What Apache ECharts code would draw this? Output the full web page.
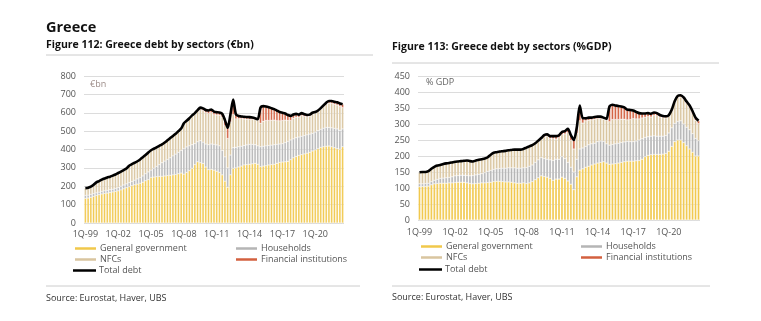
<!DOCTYPE html>
<html><head><meta charset="utf-8">
<script src="https://cdn.jsdelivr.net/npm/echarts@6/dist/echarts.min.js"></script>
<style>html,body{margin:0;padding:0;background:#fff}#c{width:761px;height:321px}</style>
</head><body><div id="c"></div>
<script>
// Quarterly categories 1Q-99 .. 3Q-22
const quarters = [];
for (let y = 1999; y <= 2022; y++) for (let q = 1; q <= 4; q++) {
  if (y === 2022 && q > 3) break;
  quarters.push(q + 'Q-' + String(y).slice(2));
}
const seriesNames = ['General government', 'Households', 'NFCs', 'Financial institutions', 'Total debt'];

// Figure 112 (EUR bn)
const eurGG = [134,136,140,145, 150,154,158,161, 163,166,169,172, 175,180,186,192, 198,203,208,212, 216,222,230,236, 248,250,252,254, 254,256,258,260, 262,264,268,272, 266,275,285,298, 318,333,328,324, 305,290,292,288, 282,275,262,228, 195,262,298,300, 305,310,316,318, 320,322,325,320, 307,310,312,316, 318,320,325,330, 332,333,336,345, 355,362,368,372, 376,380,385,392, 398,405,412,415, 418,419,415,410, 405,402,415];
const eurHH = [16,16,16,15, 14,14,14,14, 15,15,15,16, 18,20,21,21, 22,23,25,28, 31,34,38,42, 40,48,56,64, 74,81,88,95, 103,111,117,123, 139,139,135,128, 114,109,120,116, 125,136,138,140, 143,145,133,132, 105,108,112,112, 110,108,106,107, 108,106,101,100, 108,108,108,106, 106,106,103,100, 100,105,108,107, 103,102,100,100, 100,100,99,96, 97,97,98,101, 102,101,103,105, 107,103,97];
const eurNFC = [40,40,42,48, 57,60,64,67, 70,71,74,76, 79,80,81,83, 92,94,95,96, 99,102,102,106, 108,106,104,102, 100,101,104,107, 109,111,115,119, 138,142,148,156, 160,164,170,172, 171,170,170,162, 163,167,181,170, 160,180,180,155, 152,150,144,140, 136,136,136,139, 128,136,138,136, 135,134,129,126, 126,122,114,106, 112,112,107,112, 104,98,97,104, 103,104,109,116, 125,132,133,131, 130,129,116];
const eurFI = [0,0,0,0, 0,0,0,0, 0,0,0,0, 0,0,0,0, 0,0,0,0, 0,0,0,0, 0,0,0,0, 0,0,0,0, 0,0,0,0, 0,0,2,4, 6,8,10,12, 14,16,18,16, 15,14,18,30, 58,40,50,25, 15,12,12,12, 12,10,8,6, 85,82,76,72, 66,60,55,48, 42,36,30,25, 20,18,15,14, 12,10,9,8, 6,6,6,8, 10,12,13,14, 15,16,18];
const eurTotal = [190,192,198,208, 221,228,236,242, 248,252,258,264, 272,280,288,296, 312,320,328,336, 346,358,370,384, 396,404,412,420, 428,438,450,462, 474,486,500,514, 543,556,570,586, 598,614,628,624, 615,612,618,606, 603,601,594,560, 518,590,672,592, 582,580,578,577, 576,574,570,565, 628,636,634,630, 625,620,612,604, 600,596,588,583, 590,594,590,598, 592,588,590,600, 604,612,625,640, 655,664,664,660, 657,650,646];
const eurTicks = [0,100,200,300,400,500,600,700,800];

// Figure 113 (% GDP)
const gdpGG = [104,105,105,106, 110,113,114,115, 115,115,116,116, 117,118,118,118, 116,114,113,114, 115,116,116,117, 118,120,121,121, 120,119,119,118, 116,115,115,116, 114,116,120,126, 132,138,136,134, 130,124,128,128, 134,130,122,112, 95,135,156,160, 165,168,172,175, 178,180,182,178, 174,175,176,178, 180,182,184,184, 184,185,186,190, 198,202,204,205, 205,205,206,208, 215,230,245,250, 250,242,232,222, 212,200,200];
const gdpHH = [9,8,9,9, 10,11,13,15, 16,17,17,19, 21,21,22,22, 23,24,26,27, 28,29,32,35, 37,38,39,40, 42,43,44,45, 47,47,47,47, 50,52,52,54, 56,57,56,56, 58,62,62,62, 64,62,58,53, 55,55,66,65, 65,67,66,65, 67,67,64,60, 60,61,62,62, 62,62,62,61, 61,62,64,64, 60,58,58,58, 57,57,56,56, 57,58,57,58, 60,58,58,60, 58,55,48];
const gdpNFC = [36,37,36,38, 40,42,43,42, 44,45,45,45, 44,44,44,45, 47,46,44,45, 45,45,44,44, 49,52,52,53, 53,54,55,56, 57,58,58,59, 62,62,61,58, 57,57,68,72, 67,68,63,67, 69,77,93,84, 72,80,88,78, 80,77,75,75, 72,70,69,74, 73,78,76,74, 73,71,67,69, 72,69,66,65, 63,63,60,64, 64,60,58,55, 52,53,66,75, 74,77,74,69, 62,57,53];
const gdpFI = [0,0,0,0, 0,0,0,0, 0,0,0,0, 0,0,0,0, 0,0,0,0, 0,0,0,0, 0,0,0,0, 0,0,0,0, 0,0,0,0, 0,0,1,2, 3,4,5,6, 7,8,9,8, 8,9,12,16, 28,20,35,15, 8,8,7,7, 6,6,5,4, 48,46,44,42, 40,37,32,30, 25,22,18,14, 12,11,10,9, 8,6,5,5, 4,4,4,5, 6,6,6,7, 8,8,9];
const gdpTotal = [149,150,150,153, 160,166,170,172, 175,177,178,180, 182,183,184,185, 186,184,183,186, 188,190,192,196, 204,210,212,214, 215,216,218,219, 220,220,220,222, 226,230,234,240, 248,256,265,268, 262,262,262,265, 275,278,285,265, 250,290,358,318, 318,320,320,322, 323,323,320,316, 355,360,358,356, 355,352,345,344, 342,338,334,333, 333,334,332,336, 334,328,325,324, 328,345,372,388, 390,383,370,358, 340,320,310];
const gdpTicks = [0,50,100,150,200,250,300,350,400,450];

const colors = ['#F1C84B', '#B5B5B5', '#D9C59F', '#D3603F', '#000000'];
const FONT = '"Open Sans", "DejaVu Sans", sans-serif';
const chart = echarts.init(document.getElementById('c'), null, {renderer: 'canvas'});

function barSeries(name, data, idx, gi, stack) {
  return {
    name, type: 'bar', data, stack, xAxisIndex: gi, yAxisIndex: gi,
    barCategoryGap: '22%',
    itemStyle: {color: colors[idx], borderColor: '#ffffff', borderWidth: 0.35},
    emphasis: {disabled: true}, animation: false
  };
}
function lineSeries(data, gi) {
  return {
    name: 'Total debt', type: 'line', data, xAxisIndex: gi, yAxisIndex: gi,
    symbol: 'none', smooth: 0.25, z: 5,
    itemStyle: {color: '#000'},
    lineStyle: {color: '#000', width: 2.6, join: 'round'},
    emphasis: {disabled: true}, animation: false
  };
}
function xAx(gi, margin) {
  return {
    type: 'category', data: quarters, gridIndex: gi,
    axisLine: {show: false}, axisTick: {show: false},
    axisLabel: {interval: 11, color: '#555', fontSize: 9, fontFamily: FONT, margin}
  };
}
function yAx(gi, max, interval) {
  return {
    type: 'value', gridIndex: gi, min: 0, max, interval,
    axisLine: {show: false}, axisTick: {show: false},
    axisLabel: {color: '#555', fontSize: 9, fontFamily: FONT, margin: 8},
    splitLine: {lineStyle: {color: '#dcdcdc', width: 1}}
  };
}
function legendItem(name, left, top) {
  const isLine = name === 'Total debt';
  return {
    data: [{name, icon: 'rect', itemStyle: {color: colors[seriesNames.indexOf(name)]}}],
    left, top, orient: 'horizontal',
    itemWidth: 23, itemHeight: isLine ? 2.5 : 4.5, itemGap: 0, padding: 0,
    selectedMode: false,
    textStyle: {color: '#555', fontSize: 9, fontFamily: FONT, padding: [0, 0, 0, -2]}
  };
}
function titleItem(text, left, top, size, weight, color) {
  return {text, left, top, padding: 0,
    textStyle: {fontSize: size, fontWeight: weight, color, fontFamily: FONT}};
}

const option = {
  backgroundColor: '#fff',
  animation: false,
  grid: [
    {left: 84, right: 417, top: 76, bottom: 98},
    {left: 418, right: 61, top: 76, bottom: 101}
  ],
  xAxis: [xAx(0, 7), xAx(1, 8)],
  yAxis: [yAx(0, eurTicks[eurTicks.length - 1], eurTicks[1] - eurTicks[0]),
          yAx(1, gdpTicks[gdpTicks.length - 1], gdpTicks[1] - gdpTicks[0])],
  legend: [
    legendItem(seriesNames[0], 73, 244), legendItem(seriesNames[1], 234, 244),
    legendItem(seriesNames[2], 73, 255), legendItem(seriesNames[3], 234, 255),
    legendItem(seriesNames[4], 73, 266),
    legendItem(seriesNames[0], 419, 242), legendItem(seriesNames[1], 579, 242),
    legendItem(seriesNames[2], 419, 253), legendItem(seriesNames[3], 579, 253),
    legendItem(seriesNames[4], 419, 265)
  ],
  title: [
    titleItem('Greece', 46, 20, 14.5, 'bold', '#111'),
    titleItem('Figure 112: Greece debt by sectors (€bn)', 46, 40, 10.5, 'bold', '#111'),
    titleItem('Figure 113: Greece debt by sectors (%GDP)', 392, 42, 10.5, 'bold', '#111'),
    titleItem('Source: Eurostat, Haver, UBS', 46, 294, 9, 'normal', '#333'),
    titleItem('Source: Eurostat, Haver, UBS', 392, 293, 9, 'normal', '#333')
  ],
  graphic: [
    {type: 'line', shape: {x1: 46, y1: 55, x2: 373, y2: 55}, style: {stroke: '#cccccc', lineWidth: 1}},
    {type: 'line', shape: {x1: 392, y1: 63, x2: 719, y2: 63}, style: {stroke: '#cccccc', lineWidth: 1}},
    {type: 'line', shape: {x1: 46, y1: 286, x2: 360, y2: 286}, style: {stroke: '#cccccc', lineWidth: 1}},
    {type: 'line', shape: {x1: 392, y1: 286, x2: 710, y2: 286}, style: {stroke: '#cccccc', lineWidth: 1}},
    {type: 'text', left: 90, top: 80, style: {text: '€bn', fill: '#9c8c88', font: '9px ' + FONT}},
    {type: 'text', left: 426, top: 78, style: {text: '% GDP', fill: '#666', font: '9px ' + FONT}}
  ],
  series: [
    barSeries(seriesNames[0], eurGG, 0, 0, 'a'),
    barSeries(seriesNames[1], eurHH, 1, 0, 'a'),
    barSeries(seriesNames[2], eurNFC, 2, 0, 'a'),
    barSeries(seriesNames[3], eurFI, 3, 0, 'a'),
    lineSeries(eurTotal, 0),
    barSeries(seriesNames[0], gdpGG, 0, 1, 'b'),
    barSeries(seriesNames[1], gdpHH, 1, 1, 'b'),
    barSeries(seriesNames[2], gdpNFC, 2, 1, 'b'),
    barSeries(seriesNames[3], gdpFI, 3, 1, 'b'),
    lineSeries(gdpTotal, 1)
  ]
};
chart.setOption(option);
</script></body></html>
